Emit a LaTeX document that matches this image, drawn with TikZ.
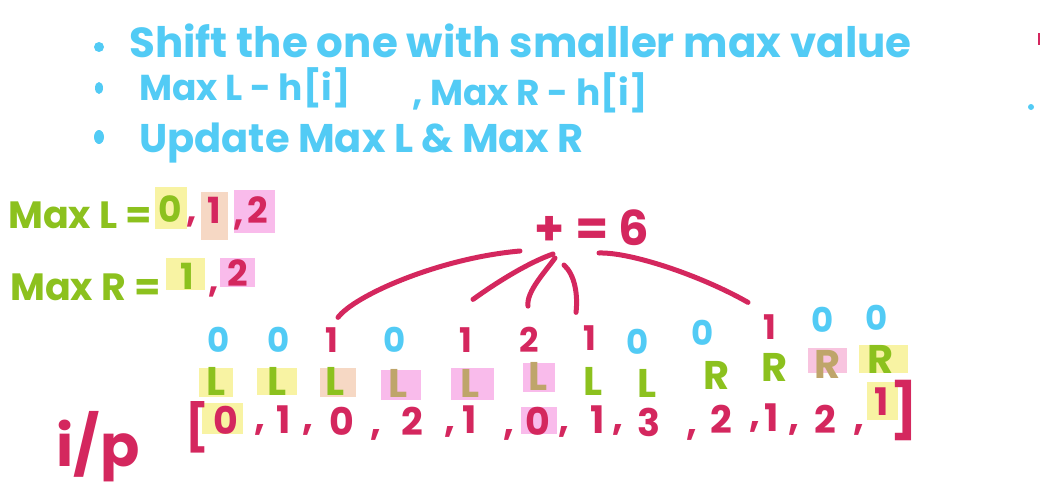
\documentclass[tikz,border=0pt]{standalone}
\usepackage{fontspec}
\setmainfont{Poppins}
\usepackage{tikz}

\definecolor{inkblue}{HTML}{52CBF5}
\definecolor{inkgreen}{HTML}{8CC11E}
\definecolor{inkred}{HTML}{D4275E}
\definecolor{inktan}{HTML}{BFA56A}
\definecolor{hlyellow}{HTML}{F8F3A3}
\definecolor{hlpink}{HTML}{F9BBEB}
\definecolor{hlpeach}{HTML}{F6D8C4}

\tikzset{
	bluetext/.style={text=inkblue, inner sep=0pt},
	greentext/.style={text=inkgreen, inner sep=0pt},
	redtext/.style={text=inkred, inner sep=0pt},
	tantext/.style={text=inktan, inner sep=0pt},
	sz/.style={font=\fontsize{#1}{#1}\selectfont\bfseries},
	arcline/.style={inkred, line width=5pt, line cap=round},
}

\begin{document}
\begin{tikzpicture}[x=1pt,y=-1pt]
	\useasboundingbox (0,0) rectangle (1040,487);
	% highlights - must be drawn before the text!
	\fill[hlyellow] (155,187) rectangle (187,229);
	\fill[hlpeach] (201,192) rectangle (228,240);
	\fill[hlpink] (234,190) rectangle (275,233);
	\fill[hlyellow] (166,258) rectangle (205,290);
	\fill[hlpink] (220,258) rectangle (255,287);
	\fill[hlyellow] (199,368) rectangle (233,397);
	\fill[hlyellow] (257,368) rectangle (297,395);
	\fill[hlpeach] (320,368) rectangle (356,397);
	\fill[hlpink] (381,370) rectangle (421,400);
	\fill[hlpink] (451,368) rectangle (494,400);
	\fill[hlpink] (523,363) rectangle (555,392);
	\fill[hlpink!70!hlpeach] (808,348) rectangle (847,373);
	\fill[hlyellow] (859,345) rectangle (908,373);
	\fill[hlyellow] (202,403) rectangle (243,434);
	\fill[hlpink] (521,407) rectangle (557,434);
	\fill[hlyellow] (867,382) rectangle (898,420);
	% the notes
	\fill[inkblue] (99,47) circle (5);
	\fill[inkblue] (99,88) ellipse (4 and 6);
	\fill[inkblue] (99,137) ellipse (5 and 7);
	\node[bluetext, sz=42, anchor=base west] (note1) at (129,57) {Shift the one with smaller max value};
	\node[bluetext, sz=36, anchor=base west] (note2a) at (139,100) {Max L - h[i]};
	\node[bluetext, sz=36, anchor=base west] (note2b) at (412,105) {, Max R - h[i]};
	\node[bluetext, sz=40, anchor=base west] (note3) at (139,152) {Update Max L \& Max R};
	\fill[inkblue] (1031,107) circle (3);
	\fill[inkred] (1038,33) rectangle (1040,45);
	% MaxL and MaxR
	\node[greentext, sz=38, anchor=base west] (maxl) at (8,228) {Max L =};
	\node[greentext, sz=36] (ml1) at (170,209) {0};
	\node[redtext, sz=36] (mlc1) at (192,222) {,};
	\node[redtext, sz=36] (ml2) at (214,210) {1};
	\node[redtext, sz=36] (mlc2) at (239,225) {,};
	\node[redtext, sz=36] (ml3) at (258,210) {2};
	\node[greentext, sz=38, anchor=base west] (maxr) at (10,300) {Max R =};
	\node[greentext, sz=36] (mr1) at (187,276) {1};
	\node[redtext, sz=36] (mrc1) at (214,292) {,};
	\node[redtext, sz=36] (mr2) at (238,273) {2};
	% the total
	\node[redtext, sz=48] (total) at (592,228) {+ = 6};
	% water above each bar
	\node[bluetext, sz=34] (h1) at (219,340) {0};
	\node[bluetext, sz=34] (h2) at (279,340) {0};
	\node[redtext, sz=34] (h3) at (332,340) {1};
	\node[bluetext, sz=34] (h4) at (395,340) {0};
	\node[redtext, sz=34] (h5) at (466,340) {1};
	\node[redtext, sz=34] (h6) at (529,340) {2};
	\node[redtext, sz=34] (h7) at (590,338) {1};
	\node[bluetext, sz=34] (h8) at (638,342) {0};
	\node[bluetext, sz=34] (h9) at (703,333) {0};
	\node[redtext, sz=34] (h10) at (770,327) {1};
	\node[bluetext, sz=34] (h11) at (823,320) {0};
	\node[bluetext, sz=34] (h12) at (877,318) {0};
	% which side moves
	\node[greentext, sz=40] (s1) at (216,381) {L};
	\node[greentext, sz=40] (s2) at (277,381) {L};
	\node[greentext, sz=40] (s3) at (335,381) {L};
	\node[tantext, sz=40] (s4) at (398,383) {L};
	\node[tantext, sz=40] (s5) at (470,383) {L};
	\node[tantext, sz=40] (s6) at (538,376) {L};
	\node[greentext, sz=40] (s7) at (593,381) {L};
	\node[greentext, sz=40] (s8) at (647,383) {L};
	\node[greentext, sz=40] (s9) at (717,375) {R};
	\node[greentext, sz=40] (s10) at (775,367) {R};
	\node[tantext, sz=40] (s11) at (828,364) {R};
	\node[greentext, sz=40] (s12) at (881,359) {R};
	% the input
	\node[redtext, sz=58] (ip) at (98,447) {i/p};
	\node[redtext, sz=46] (lbr) at (197,427) {[};
	\node[redtext, sz=38] (a1) at (226,420) {0};
	\node[redtext, sz=38] (c1) at (260,430) {,};
	\node[redtext, sz=38] (a2) at (284,420) {1};
	\node[redtext, sz=38] (c2) at (308,430) {,};
	\node[redtext, sz=38] (a3) at (342,421) {0};
	\node[redtext, sz=38] (c3) at (376,435) {,};
	\node[redtext, sz=38] (a4) at (412,421) {2};
	\node[redtext, sz=38] (c4) at (450,432) {,};
	\node[redtext, sz=38] (a5) at (470,420) {1};
	\node[redtext, sz=38] (c5) at (509,435) {,};
	\node[redtext, sz=38] (a6) at (538,421) {0};
	\node[redtext, sz=38] (c6) at (564,432) {,};
	\node[redtext, sz=38] (a7) at (598,420) {1};
	\node[redtext, sz=38] (c7) at (618,430) {,};
	\node[redtext, sz=38] (a8) at (649,422) {3};
	\node[redtext, sz=38] (c8) at (692,435) {,};
	\node[redtext, sz=38] (a9) at (721,419) {2};
	\node[redtext, sz=38] (c9) at (755,427) {,};
	\node[redtext, sz=38] (a10) at (772,418) {1};
	\node[redtext, sz=38] (c10) at (794,430) {,};
	\node[redtext, sz=38] (a11) at (825,419) {2};
	\node[redtext, sz=38] (c11) at (859,430) {,};
	\node[redtext, sz=38] (a12) at (882,402) {1};
	\node[redtext, sz=54] (rbr) at (904,410) {]};
	% arcs up to the total
	\coordinate (t1) at (520,251);
	\coordinate (t2) at (553,254);
	\coordinate (t3) at (555,258);
	\coordinate (t4) at (564,265);
	\coordinate (t5) at (599,253);
	\draw[arcline] ([xshift=6pt,yshift=10pt]h3.north) .. controls (355,295) and (440,258) .. (t1);
	\draw[arcline] ([xshift=7pt,yshift=28pt]h5.north) .. controls (500,280) and (530,262) .. (t2);
	\draw[arcline] ([xshift=-1pt,yshift=21pt]h6.north) .. controls (526,292) and (545,272) .. (t3);
	\draw[arcline] ([xshift=-14pt,yshift=13pt]h7.north) .. controls (578,295) and (575,275) .. (t4);
	\draw[arcline] (t5) .. controls (630,252) and (700,275) .. ([xshift=-22pt,yshift=12pt]h10.north);
\end{tikzpicture}
\end{document}
